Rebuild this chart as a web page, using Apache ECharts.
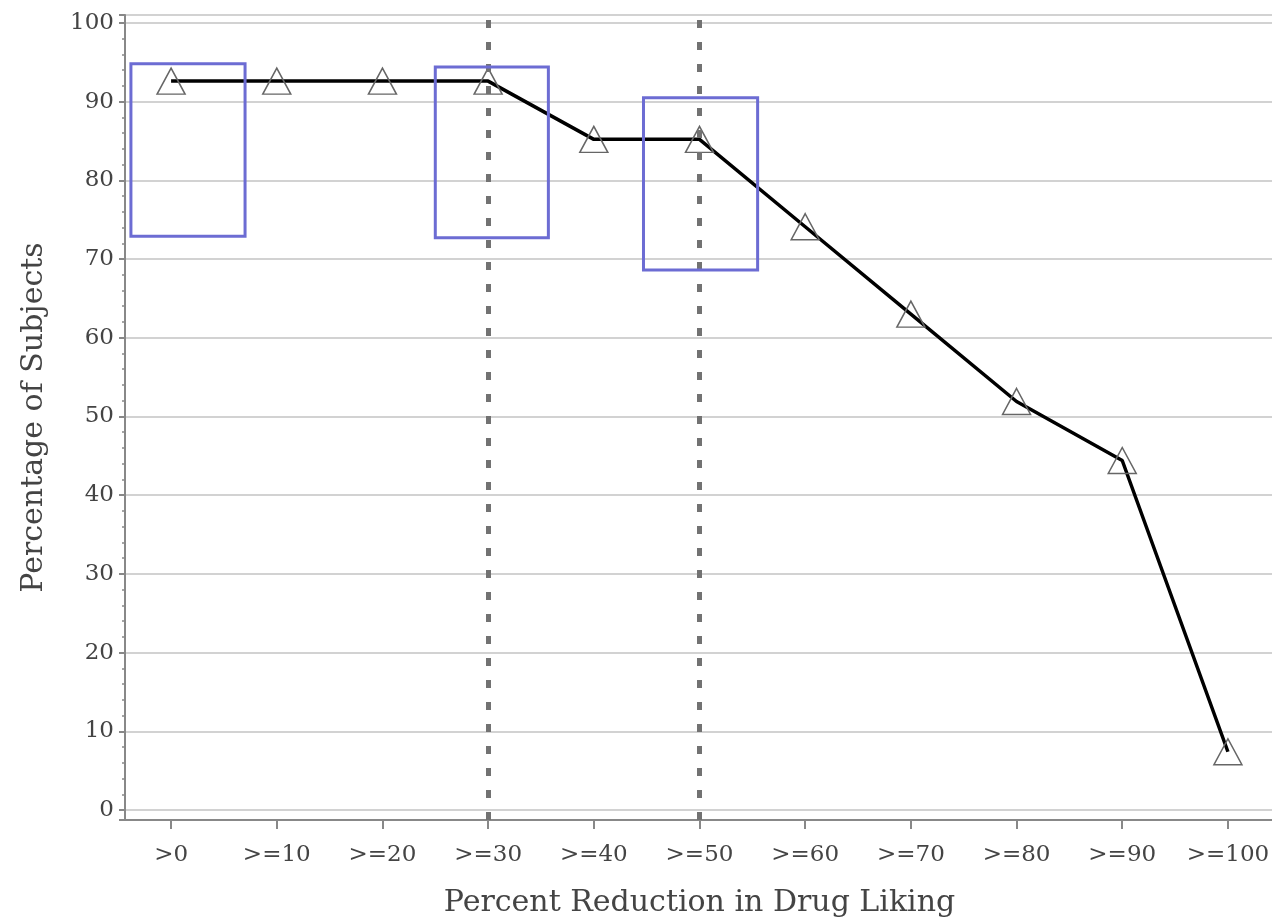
<!DOCTYPE html>
<html lang="en">

<head>
  <meta charset="UTF-8">
  <title>Percent Reduction in Drug Liking</title>
  <script src="https://cdn.jsdelivr.net/npm/echarts@6/dist/echarts.min.js"></script>
  <style>
    html, body { margin: 0; padding: 0; background: #fff; }
    #chart { width: 1272px; height: 917px; }
  </style>
</head>

<body>
  <div id="chart"></div>

  <script>
    // categories on the x axis
    var categories = ['>0', '>=10', '>=20', '>=30', '>=40', '>=50', '>=60', '>=70', '>=80', '>=90', '>=100']
    // percentage of subjects at each cut-off
    var percentValues = [92.6, 92.6, 92.6, 92.6, 85.2, 85.2, 74.1, 63.0, 51.9, 44.4, 7.4]
    // dashed reference lines (category index)
    var refLines = [3, 5]
    // highlight boxes: [xFrom, yFrom, xTo, yTo] in axis units
    var highlightBoxes = [
      [-0.38, 94.8, 0.70, 72.9],
      [2.50, 94.4, 3.57, 72.7],
      [4.47, 90.5, 5.55, 68.6]
    ]

    var mCharts = echarts.init(document.getElementById('chart'))
    var font = 'DejaVu Serif'

    var option = {
      animation: false,
      grid: {
        left: 125,
        right: -2,
        top: 15,
        bottom: 97,
        outerBoundsMode: 'none',
        containLabel: false,
        show: true,
        borderColor: '#8c8c8c',
        borderWidth: 2
      },
      xAxis: {
        type: 'value',
        min: -0.436,
        max: 10.436,
        splitNumber: 11,
        name: 'Percent Reduction in Drug Liking',
        nameLocation: 'middle',
        nameGap: 68,
        nameTextStyle: { fontFamily: font, fontSize: 30, color: '#444' },
        axisLine: { onZero: false, lineStyle: { color: '#888', width: 2 } },
        axisTick: { length: 9, lineStyle: { color: '#888', width: 2 } },
        axisLabel: {
          fontFamily: font,
          fontSize: 23,
          color: '#444',
          margin: 24,
          showMinLabel: false,
          showMaxLabel: false,
          formatter: function (v) {
            var i = Math.round(v)
            return Math.abs(v - i) < 1e-6 && categories[i] !== undefined ? categories[i] : ''
          }
        },
        splitLine: { show: false }
      },
      yAxis: {
        type: 'value',
        min: -1.27,
        max: 101,
        splitNumber: 10,
        name: 'Percentage of Subjects',
        nameLocation: 'middle',
        nameGap: 76,
        nameTextStyle: { fontFamily: font, fontSize: 30, color: '#444' },
        axisLine: { show: true, onZero: false, lineStyle: { color: '#888', width: 2 } },
        axisTick: { show: true, length: 6, lineStyle: { color: '#888', width: 2 } },
        minorTick: { show: true, splitNumber: 5, length: 3, lineStyle: { color: '#888', width: 1.5 } },
        axisLabel: {
          fontFamily: font,
          fontSize: 23,
          color: '#444',
          margin: 11,
          showMinLabel: false,
          showMaxLabel: false
        },
        splitLine: { show: true, lineStyle: { color: '#d2d2d2', width: 2 } }
      },
      series: [
        {
          type: 'line',
          data: percentValues.map(function (v, i) { return [i, v] }),
          symbol: 'triangle',
          symbolSize: [28, 26],
          showAllSymbol: true,
          lineStyle: { color: '#000', width: 3.5 },
          itemStyle: { color: 'rgba(0,0,0,0)', borderColor: '#666', borderWidth: 1.5 },
          markLine: {
            silent: true,
            symbol: 'none',
            label: { show: false },
            lineStyle: { color: '#727272', width: 5, type: [8, 14] },
            data: refLines.map(function (x) { return { xAxis: x } })
          },
          markArea: {
            silent: true,
            z: 10,
            itemStyle: { color: 'rgba(0,0,0,0)', borderColor: '#6c6cd3', borderWidth: 3 },
            data: highlightBoxes.map(function (b) {
              return [{ coord: [b[0], b[1]] }, { coord: [b[2], b[3]] }]
            })
          }
        }
      ]
    }
    mCharts.setOption(option)
  </script>
</body>

</html>
